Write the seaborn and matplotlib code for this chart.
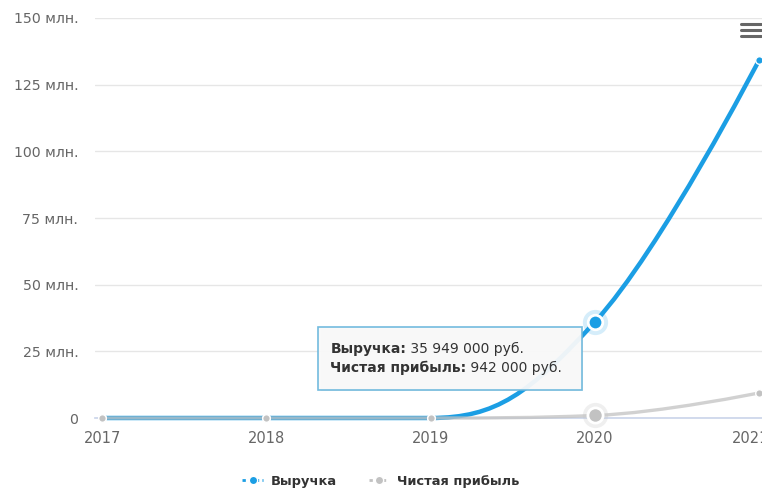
import matplotlib
matplotlib.use("Agg")
import matplotlib.pyplot as plt
import matplotlib.transforms as mtransforms
import seaborn as sns
from matplotlib.path import Path
from matplotlib.patches import PathPatch, FancyBboxPatch
from matplotlib.lines import Line2D

# data (млн. руб.)
years = [2017, 2018, 2019, 2020, 2021]
revenue = [0, 0, 0, 35.949, 134.2]
profit = [0, 0, 0, 0.942, 9.4]
series_names = ["Выручка", "Чистая прибыль"]
y_ticks = [0, 25, 50, 75, 100, 125, 150]
y_labels = ["0", "25 млн.", "50 млн.", "75 млн.", "100 млн.", "125 млн.", "150 млн."]
hover_year = 2020
tooltip_values = ["35 949 000 руб.", "942 000 руб."]

BLUE = "#1b9ee4"
GREY = "#c2c2c2"
TXT = "#666666"


def spline_path(xs, ys, smoothing=1.5):
    # cubic bezier segments like a highcharts "spline" series
    denom = smoothing + 1
    verts = [(xs[0], ys[0])]
    codes = [Path.MOVETO]
    prev_right = (xs[0], ys[0])
    for i in range(1, len(xs)):
        px, py = xs[i], ys[i]
        left = (px, py)
        right = None
        if i < len(xs) - 1:
            lx, ly = xs[i - 1], ys[i - 1]
            nx, ny = xs[i + 1], ys[i + 1]
            lcx = (smoothing * px + lx) / denom
            lcy = (smoothing * py + ly) / denom
            rcx = (smoothing * px + nx) / denom
            rcy = (smoothing * py + ny) / denom
            corr = (rcy - lcy) * (rcx - px) / (rcx - lcx) + py - rcy
            lcy += corr
            rcy += corr
            if lcy > ly and lcy > py:
                lcy = max(ly, py); rcy = 2 * py - lcy
            elif lcy < ly and lcy < py:
                lcy = min(ly, py); rcy = 2 * py - lcy
            if rcy > ny and rcy > py:
                rcy = max(ny, py); lcy = 2 * py - rcy
            elif rcy < ny and rcy < py:
                rcy = min(ny, py); lcy = 2 * py - rcy
            left = (lcx, lcy)
            right = (rcx, rcy)
        verts += [prev_right, left, (px, py)]
        codes += [Path.CURVE4] * 3
        prev_right = right if right is not None else (px, py)
    return Path(verts, codes)


sns.set_theme(style="white")
plt.rcParams["font.family"] = ["DejaVu Sans"]

fig = plt.figure(figsize=(7.62, 4.9), dpi=100)
ax = fig.add_axes([95 / 762, 72 / 490, 667 / 762, 400 / 490])
ax.set_xlim(2016.957, 2021.018)
ax.set_ylim(0, 150)

ax.set_yticks(y_ticks)
ax.set_yticklabels(y_labels)
ax.set_xticks(years)
ax.set_xticklabels([str(y) for y in years])
ax.yaxis.grid(True, color="#e6e6e6", lw=1)
ax.tick_params(axis="y", length=0, pad=12, labelsize=10.2, labelcolor=TXT)
ax.tick_params(axis="x", length=6, width=1, color="#ccd6eb", pad=3, labelsize=10.5, labelcolor=TXT)
for s in ["top", "right", "left"]:
    ax.spines[s].set_visible(False)
ax.spines["bottom"].set_color("#ccd6eb")
# last year label sits a bit left of its tick, partly cut by the edge
last = ax.get_xticklabels()[-1]
last.set_transform(last.get_transform() + mtransforms.ScaledTranslation(-8 / 100, 0, fig.dpi_scale_trans))

# lines
ax.add_patch(PathPatch(spline_path(years, revenue), fill=False, ec=BLUE, lw=3.2,
                       capstyle="round", zorder=3, clip_on=False))
ax.add_patch(PathPatch(spline_path(years, profit), fill=False, ec=GREY, lw=2.4,
                       alpha=0.75, capstyle="round", zorder=4, clip_on=False))

# markers
normal = [i for i, y in enumerate(years) if y != hover_year]
h = years.index(hover_year)
sns.scatterplot(x=[years[i] for i in normal], y=[revenue[i] for i in normal], ax=ax,
                color=BLUE, s=30, edgecolor="white", linewidth=1, zorder=5, clip_on=False)
sns.scatterplot(x=[years[i] for i in normal], y=[profit[i] for i in normal], ax=ax,
                color=GREY, s=30, edgecolor="white", linewidth=1, zorder=6, clip_on=False)
# hover state
ax.scatter([years[h]], [revenue[h]], s=330, color=BLUE, alpha=0.18, lw=0, zorder=5)
ax.scatter([years[h]], [revenue[h]], s=110, color=BLUE, edgecolor="white", linewidth=2, zorder=6)
ax.scatter([years[h]], [profit[h]], s=330, color=GREY, alpha=0.25, lw=0, zorder=5, clip_on=False)
ax.scatter([years[h]], [profit[h]], s=120, color=GREY, edgecolor="white", linewidth=2,
           zorder=6, clip_on=False)

# tooltip
shadow = FancyBboxPatch((2018.33, 10.2), 1.6, 23.3, boxstyle="square,pad=0",
                        fc="#000000", alpha=0.06, ec="none", zorder=7)
ax.add_patch(shadow)
box = FancyBboxPatch((2018.315, 10.6), 1.607, 23.5, boxstyle="square,pad=0",
                     fc="#f9f9f9", alpha=0.95, ec="#6cb8dd", lw=1.2, zorder=8)
ax.add_patch(box)
yy = [26.0, 18.8]
for k in range(2):
    lab = ax.text(2018.39, yy[k], series_names[k] + ":", fontsize=10, fontweight="bold",
                  color="#333333", va="center", ha="left", zorder=9)
    ax.annotate(" " + tooltip_values[k], xy=(1, 0.5), xycoords=lab, fontsize=10,
                color="#333333", va="center", ha="left", zorder=9)

# legend
handles = [Line2D([], [], color=c, lw=2, marker="o", ms=6, markeredgecolor="white",
                  markeredgewidth=1, dashes=(1.2, 1.2)) for c in [BLUE, GREY]]
leg = fig.legend(handles, series_names, loc="lower center", bbox_to_anchor=(0.5, -0.02),
                 ncol=2, frameon=False, handlelength=1.6, handletextpad=0.6,
                 columnspacing=2.4, prop={"size": 9.4, "weight": "bold"})
for t in leg.get_texts():
    t.set_color("#333333")

# menu icon
for yp in [24, 30, 36]:
    fig.add_artist(Line2D([741 / 762, 761 / 762], [1 - yp / 490] * 2, color="#666666", lw=2.2))

fig.savefig("out.png", dpi=100)
